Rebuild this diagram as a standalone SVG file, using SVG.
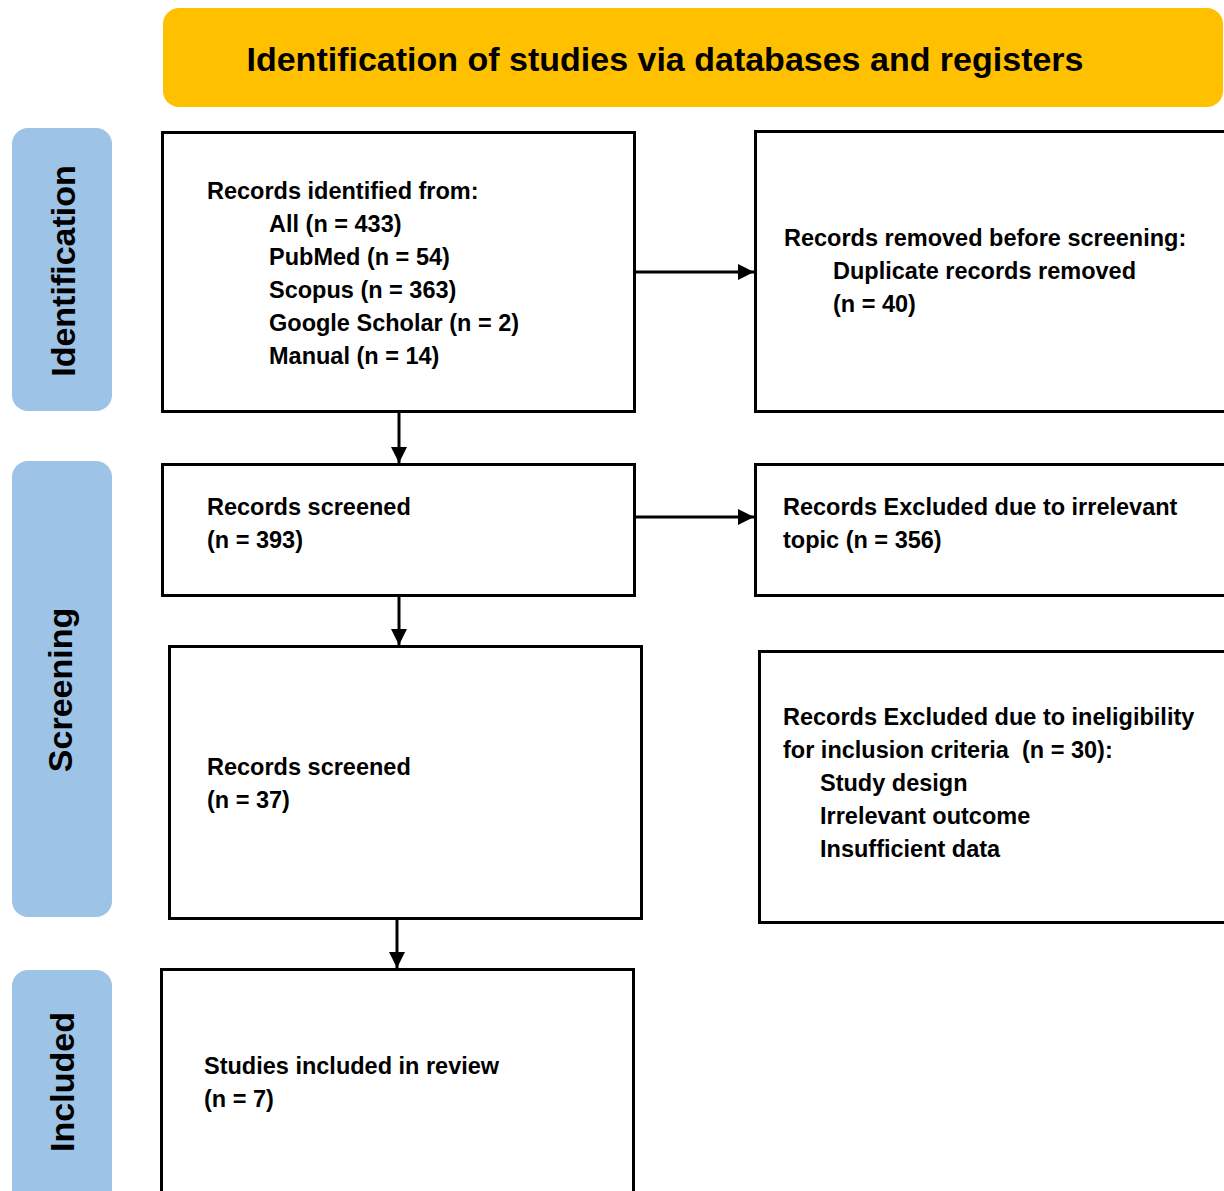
<svg xmlns="http://www.w3.org/2000/svg" width="1224" height="1191" viewBox="0 0 1224 1191">
<style>
.box{fill:#fff;stroke:#000;stroke-width:3}
.side{fill:#9DC3E6}
.t{font-family:"Liberation Sans",Arial,sans-serif;font-weight:bold;font-size:23.5px;fill:#000}
.side-t{font-family:"Liberation Sans",Arial,sans-serif;font-weight:bold;font-size:34px;fill:#000;text-anchor:middle}
.conn{stroke:#000;stroke-width:3;fill:none}
</style>
<defs>
<marker id="ah" markerWidth="16" markerHeight="16" refX="16" refY="8" orient="auto" markerUnits="userSpaceOnUse">
<path d="M0,0 L16,8 L0,16 Z" fill="#000"/>
</marker>
</defs>
<rect width="1224" height="1191" fill="#fff"/>
<g id="banner">
<rect x="163" y="8" width="1060" height="99" rx="16" fill="#FFC000"/>
<text x="665" y="71" font-family="Liberation Sans,Arial,sans-serif" font-weight="bold" font-size="34" text-anchor="middle">Identification of studies via databases and registers</text>
</g>
<g id="side-identification">
<rect class="side" x="12" y="128" width="100" height="283" rx="16"/>
<text class="side-t" transform="translate(75,271) rotate(-90)">Identification</text>
</g>
<g id="side-screening">
<rect class="side" x="12" y="461" width="100" height="456" rx="16"/>
<text class="side-t" transform="translate(72,690) rotate(-90)">Screening</text>
</g>
<g id="side-included">
<rect class="side" x="12" y="970" width="100" height="240" rx="16"/>
<text class="side-t" transform="translate(74,1082) rotate(-90)">Included</text>
</g>
<g id="records-identified">
<rect class="box" x="162.5" y="132.5" width="472" height="279"/>
<text class="t" x="207" y="199">Records identified from:</text>
<text class="t" x="269" y="232">All (n = 433)</text>
<text class="t" x="269" y="265">PubMed (n = 54)</text>
<text class="t" x="269" y="298">Scopus (n = 363)</text>
<text class="t" x="269" y="331">Google Scholar (n = 2)</text>
<text class="t" x="269" y="364">Manual (n = 14)</text>
</g>
<g id="records-removed">
<rect class="box" x="755.5" y="131.5" width="480" height="280"/>
<text class="t" x="784" y="246">Records removed before screening:</text>
<text class="t" x="833" y="279">Duplicate records removed</text>
<text class="t" x="833" y="312">(n = 40)</text>
</g>
<g id="records-screened-1">
<rect class="box" x="162.5" y="464.5" width="472" height="131"/>
<text class="t" x="207" y="515">Records screened</text>
<text class="t" x="207" y="548">(n = 393)</text>
</g>
<g id="excluded-irrelevant">
<rect class="box" x="755.5" y="464.5" width="480" height="131"/>
<text class="t" x="783" y="515">Records Excluded due to irrelevant</text>
<text class="t" x="783" y="548">topic (n = 356)</text>
</g>
<g id="records-screened-2">
<rect class="box" x="169.5" y="646.5" width="472" height="272"/>
<text class="t" x="207" y="775">Records screened</text>
<text class="t" x="207" y="808">(n = 37)</text>
</g>
<g id="excluded-ineligible">
<rect class="box" x="759.5" y="651.5" width="480" height="271"/>
<text class="t" x="783" y="725">Records Excluded due to ineligibility</text>
<text class="t" x="783" y="758" xml:space="preserve">for inclusion criteria  (n = 30):</text>
<text class="t" x="820" y="791">Study design</text>
<text class="t" x="820" y="824">Irrelevant outcome</text>
<text class="t" x="820" y="857">Insufficient data</text>
</g>
<g id="studies-included">
<rect class="box" x="161.5" y="969.5" width="472" height="240"/>
<text class="t" x="204" y="1074">Studies included in review</text>
<text class="t" x="204" y="1107">(n = 7)</text>
</g>
<g id="connectors">
<line class="conn" x1="399" y1="411" x2="399" y2="463" marker-end="url(#ah)"/>
<line class="conn" x1="399" y1="596" x2="399" y2="645" marker-end="url(#ah)"/>
<line class="conn" x1="397" y1="919" x2="397" y2="968" marker-end="url(#ah)"/>
<line class="conn" x1="635" y1="272" x2="754" y2="272" marker-end="url(#ah)"/>
<line class="conn" x1="635" y1="517" x2="754" y2="517" marker-end="url(#ah)"/>
</g>
</svg>
